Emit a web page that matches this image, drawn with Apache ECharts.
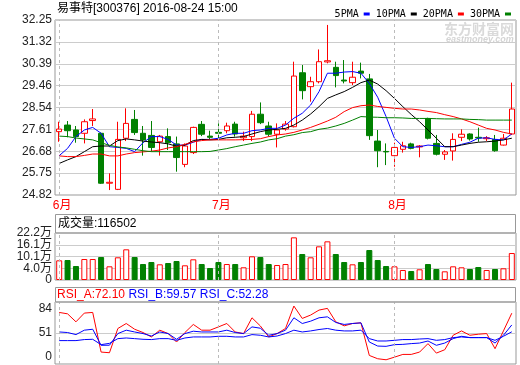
<!DOCTYPE html>
<html><head><meta charset="utf-8">
<script src="https://cdn.jsdelivr.net/npm/echarts@6/dist/echarts.min.js"></script>
<style>html,body{margin:0;padding:0;background:#fff}#c{width:520px;height:365px}</style>
</head><body><div id="c"></div>
<script>
const dates = ['2016-06-02','2016-06-03','2016-06-06','2016-06-07','2016-06-08','2016-06-13','2016-06-14','2016-06-15','2016-06-16','2016-06-17',
 '2016-06-20','2016-06-21','2016-06-22','2016-06-23','2016-06-24','2016-06-27','2016-06-28','2016-06-29','2016-06-30',
 '2016-07-01','2016-07-04','2016-07-05','2016-07-06','2016-07-07','2016-07-08','2016-07-11','2016-07-12','2016-07-13','2016-07-14','2016-07-15',
 '2016-07-18','2016-07-19','2016-07-20','2016-07-21','2016-07-22','2016-07-25','2016-07-26','2016-07-27','2016-07-28','2016-07-29',
 '2016-08-01','2016-08-02','2016-08-03','2016-08-04','2016-08-05','2016-08-08','2016-08-09','2016-08-10','2016-08-11','2016-08-12',
 '2016-08-18','2016-08-19','2016-08-22','2016-08-23','2016-08-24'];
const opens = [27.51,27.79,27.58,27.44,27.98,27.44,25.32,25.06,27.23,28.03, 27.44,27.35,27.08,27.30,26.99,26.12,26.62,27.82,27.32,27.48,
 27.55,27.83,27.25,27.30,28.25,27.75,27.40,27.62,27.72,30.01, 29.42,29.63,30.47,30.24,29.70,29.59,30.08,29.75,27.11,26.67,
 26.49,26.76,26.99,26.86,28.07,27.01,26.55,26.69,27.27,27.41, 27.27,27.21,27.18,26.94,27.41];
const closes = [27.62,27.55,27.30,27.93,28.05,25.32,25.36,27.18,27.86,27.47, 27.16,26.84,27.32,27.04,26.41,26.90,27.69,27.40,27.27,27.44,
 27.75,27.41,27.32,28.25,27.89,27.40,27.58,27.83,29.87,29.25, 29.63,30.48,30.52,29.89,29.66,29.82,29.99,27.34,26.70,26.65,
 26.84,26.91,26.80,26.90,27.23,26.55,26.65,27.18,27.40,27.20, 27.24,27.25,26.70,27.23,28.47];
const highs = [27.93,27.96,27.75,28.03,28.47,27.47,25.74,27.93,28.50,28.43, 27.75,27.96,27.37,27.65,27.30,27.01,27.72,27.96,27.55,27.86,
 27.89,27.93,27.51,28.39,28.75,27.93,27.86,27.96,30.48,30.34, 29.84,31.00,32.04,30.48,30.55,30.48,30.44,29.96,27.58,27.01,
 27.04,27.08,27.04,26.94,28.10,27.37,26.73,27.44,27.61,27.44, 27.68,27.32,27.37,27.41,29.59];
const lows = [27.08,27.27,27.04,27.01,27.75,25.29,25.03,25.03,27.11,27.37, 26.49,26.66,26.49,26.73,25.81,26.00,26.56,27.32,27.16,27.16,
 27.44,27.30,27.11,27.11,27.83,27.30,26.84,27.55,27.69,28.88, 28.78,29.56,30.41,29.39,29.56,29.49,29.77,27.16,26.00,26.09,
 26.02,26.62,26.76,26.42,27.18,26.50,26.31,26.28,27.11,27.13, 27.08,27.11,26.66,26.92,27.37];
const ma5 = [26.49,26.80,27.30,27.58,27.69,27.44,26.87,26.84,26.80,26.66, 27.04,27.30,27.30,27.18,26.94,26.94,27.06,27.18,27.18,27.23,
 27.37,27.44,27.44,27.55,27.58,27.65,27.65,27.79,28.08,28.29, 28.64,29.21,29.99,29.99,30.04,30.06,29.99,29.56,28.97,28.15,
 27.23,26.87,26.84,26.87,26.94,26.91,26.87,26.87,26.97,27.06, 27.23,27.25,27.18,27.16,27.41];
const ma10 = [26.16,26.31,26.45,26.66,26.87,26.90,26.90,27.13,27.20,27.16, 27.11,27.07,27.04,26.99,26.89,26.94,27.13,27.18,27.16,27.18,
 27.25,27.27,27.30,27.41,27.51,27.58,27.61,27.65,27.79,28.00, 28.26,28.57,28.92,29.07,29.21,29.39,29.59,29.70,29.53,29.25,
 28.92,28.57,28.24,27.93,27.58,27.23,26.87,26.87,26.94,27.01, 27.06,27.08,27.11,27.16,27.23];
const ma20 = [26.48,26.45,26.45,26.50,26.56,26.56,26.48,26.48,26.56,26.62, 26.65,26.68,26.73,26.82,26.87,26.97,27.08,27.13,27.16,27.16,
 27.16,27.16,27.17,27.18,27.21,27.30,27.37,27.41,27.48,27.58, 27.69,27.82,27.96,28.12,28.36,28.53,28.61,28.64,28.58,28.54,
 28.50,28.47,28.47,28.43,28.37,28.32,28.23,28.15,28.05,27.93, 27.79,27.65,27.58,27.48,27.41];
const ma30 = [27.32,27.30,27.24,27.20,27.16,27.04,26.93,26.86,26.82,26.76, 26.70,26.66,26.66,26.66,26.66,26.66,26.66,26.66,26.67,26.73,
 26.79,26.87,26.94,27.01,27.07,27.16,27.21,27.32,27.38,27.47, 27.51,27.61,27.66,27.75,27.86,28.00,28.15,28.13,28.12,28.10,
 28.10,28.09,28.07,28.07,28.07,28.06,28.05,28.05,28.05,28.03, 28.02,28.00,28.00,28.00,28.00];
const volumes = [85000,86300,60400,90600,90600,99200,59100,98000,132500,99200, 69000,77700,67700,73400,82000,63400,89300,69000,51800,77700,
 69000,69000,54800,102300,99200,69000,64700,69000,184200,112200, 98000,145400,167000,112200,77700,67700,77700,129500,86300,60400,
 59100,43200,38800,46200,69000,47500,37500,59100,54800,47500, 56100,43200,47500,50500,116502];
const rsiA = [72.9,71.4,62.9,72.2,72.9,30.7,30.0,55.8,61.1,55.0, 51.5,46.8,54.0,50.4,41.4,51.5,60.1,54.0,54.0,57.5,
 61.1,52.1,50.4,67.2,58.5,46.8,50.4,55.8,79.7,66.5, 70.1,75.4,77.2,62.9,58.6,61.1,61.8,27.1,23.6,22.5,
 25.3,28.2,28.2,30.7,39.7,29.6,33.2,48.6,53.2,48.6, 49.7,50.4,34.3,53.2,72.10];
const rsiB = [52.1,51.5,49.3,54.0,55.0,37.9,38.0,50.4,54.0,52.1, 50.4,47.8,52.1,50.4,44.3,50.4,52.9,52.1,52.1,52.1,
 54.0,51.5,50.4,57.5,56.1,48.6,50.4,54.0,67.2,61.1, 63.6,67.2,68.2,62.2,60.1,61.1,61.8,41.4,37.1,36.8,
 38.6,38.9,39.7,40.3,42.5,37.9,40.3,45.0,47.5,46.1, 46.1,46.1,40.3,48.6,59.57];
const rsiC = [42.9,42.9,42.9,44.0,44.3,38.6,40.0,45.0,45.7,45.0, 44.3,44.0,45.0,45.0,43.2,45.7,46.8,46.8,46.8,47.5,
 47.5,46.8,46.8,49.3,48.6,46.8,47.8,50.4,54.0,52.1, 53.2,54.7,55.8,54.0,53.2,53.2,54.0,45.0,42.5,42.5,
 43.2,44.0,44.0,44.6,45.0,43.2,44.0,46.1,46.8,46.1, 46.1,46.1,43.2,47.5,52.28];
const priceTicks = [24.82,25.75,26.68,27.61,28.54,29.46,30.39,31.32,32.25];
const volTicks = [0,50750,101500,152250,203000];
const volTickLabels = ['0','4.0万','10.1万','16.1万','22.2万'];
const rsiTicks = [18,51,84];
const rsiTickLabels = ['0','51','84'];
const stockName = '易事特[300376] 2016-08-24 15:00';

const RED = '#ff0000', GREEN = '#008000', BLUE = '#0000ff', BLACK = '#000000';
const FONT = "'Liberation Sans','Noto Sans CJK SC',sans-serif";
const MONO = "'DejaVu Sans Mono','Liberation Mono',monospace";
const FRAME = '#999999', GRIDC = '#cccccc';

const monthStarts = dates.map((d, i) => (i === 0 || d.slice(5, 7) !== dates[i - 1].slice(5, 7)) ? i : -1).filter(i => i >= 0);
const up = closes.map((c, i) => c > opens[i]);
const kData = opens.map((o, i) => [o, closes[i], lows[i], highs[i]]);
const volData = volumes.map((v, i) => ({
  value: v,
  itemStyle: up[i] ? {color: '#ffffff', borderColor: RED, borderWidth: 1} : {color: GREEN, borderColor: GREEN, borderWidth: 1}
}));
const monthLines = {
  symbol: 'none', silent: true, label: {show: false},
  lineStyle: {color: '#bbbbbb', type: [3, 3], width: 1},
  emphasis: {disabled: true},
  data: monthStarts.map(i => ({xAxis: i}))
};
// volume labels split over two overlaid axes so close labels are not auto-hidden
const volTicksA = volTicks.filter((v, i) => i % 2 === 0);
const volTicksB = volTicks.filter((v, i) => i % 2 === 1);

const chart = echarts.init(document.getElementById('c'), null, {renderer: 'canvas', width: 520, height: 365});
const gridBase = {left: 55, right: 4, show: true, borderColor: FRAME, borderWidth: 1, backgroundColor: 'transparent'};
const labelBase = {color: '#222', fontSize: 12, fontFamily: FONT, margin: 3, showMinLabel: true, showMaxLabel: true, hideOverlap: false};

chart.setOption({
  animation: false,
  grid: [
    Object.assign({top: 20, height: 175}, gridBase),
    Object.assign({top: 233, height: 47}, gridBase),
    Object.assign({top: 302, height: 62}, gridBase)
  ],
  legend: {
    right: 4, top: 4, align: 'right', icon: 'rect', itemWidth: 6, itemHeight: 3, itemGap: 6,
    selectedMode: false,
    textStyle: {fontFamily: MONO, fontSize: 10, color: '#000'},
    data: ['5PMA', '10PMA', '20PMA', '30PMA']
  },
  xAxis: [0, 1, 2].map(g => ({
    type: 'category', gridIndex: g, data: dates, boundaryGap: true,
    axisLine: {show: false}, axisTick: {show: false}, splitLine: {show: false},
    axisLabel: g === 0 ? {
      show: true, interval: (idx) => monthStarts.indexOf(idx) >= 0,
      formatter: (v) => parseInt(v.slice(5, 7), 10) + '月',
      color: RED, fontSize: 12, fontFamily: FONT, margin: 5, padding: [0, 0, 0, 6]
    } : {show: false}
  })),
  yAxis: [
    {
      type: 'value', gridIndex: 0, min: 24.82, max: 32.25,
      axisLine: {show: false}, axisTick: {show: false, customValues: priceTicks},
      axisLabel: Object.assign({customValues: priceTicks, formatter: v => v.toFixed(2)}, labelBase),
      splitLine: {show: true, lineStyle: {color: GRIDC, width: 1}}
    },
    {
      type: 'value', gridIndex: 1, position: 'left', offset: 0, min: volTicks[0], max: volTicks[volTicks.length - 1],
      axisLine: {show: false}, axisTick: {show: false, customValues: volTicks},
      axisLabel: Object.assign({}, labelBase, {customValues: volTicksA, formatter: v => volTickLabels[volTicks.indexOf(v)]}),
      splitLine: {show: true, lineStyle: {color: GRIDC, width: 1}}
    },
    {
      type: 'value', gridIndex: 2, min: 18, max: 84,
      axisLine: {show: false}, axisTick: {show: false, customValues: rsiTicks},
      axisLabel: Object.assign({
        customValues: rsiTicks,
        formatter: v => {
          const t = rsiTickLabels[rsiTicks.indexOf(v)];
          if (v === rsiTicks[2]) return '{t|' + t + '}';
          if (v === rsiTicks[0]) return '{b|' + t + '}';
          return t;
        },
        rich: {
          t: {padding: [14, 0, 0, 0], fontSize: 12, fontFamily: FONT, color: '#222'},
          b: {padding: [0, 0, 14, 0], fontSize: 12, fontFamily: FONT, color: '#222'}
        }
      }, labelBase),
      splitLine: {show: true, lineStyle: {color: GRIDC, width: 1}}
    },
    {
      type: 'value', gridIndex: 1, position: 'left', offset: 0, min: volTicks[0], max: volTicks[volTicks.length - 1],
      axisLine: {show: false}, axisTick: {show: false, customValues: volTicksB},
      axisLabel: Object.assign({}, labelBase, {customValues: volTicksB, formatter: v => volTickLabels[volTicks.indexOf(v)]}),
      splitLine: {show: false}
    }
  ],
  series: [
    {
      type: 'candlestick', name: 'K', xAxisIndex: 0, yAxisIndex: 0, data: kData, barWidth: 6, z: 2,
      itemStyle: {color: '#ffffff', color0: GREEN, borderColor: RED, borderColor0: GREEN, borderWidth: 1},
      markLine: monthLines
    },
    {type: 'line', name: '5PMA', xAxisIndex: 0, yAxisIndex: 0, data: ma5, color: BLUE, symbol: 'none', z: 3, lineStyle: {width: 1, color: BLUE}},
    {type: 'line', name: '10PMA', xAxisIndex: 0, yAxisIndex: 0, data: ma10, color: BLACK, symbol: 'none', z: 3, lineStyle: {width: 1, color: BLACK}},
    {type: 'line', name: '20PMA', xAxisIndex: 0, yAxisIndex: 0, data: ma20, color: RED, symbol: 'none', z: 3, lineStyle: {width: 1, color: RED}},
    {type: 'line', name: '30PMA', xAxisIndex: 0, yAxisIndex: 0, data: ma30, color: GREEN, symbol: 'none', z: 3, lineStyle: {width: 1, color: GREEN}},
    {type: 'bar', name: 'VOL', xAxisIndex: 1, yAxisIndex: 1, data: volData, barWidth: 6, markLine: monthLines},
    {type: 'line', name: 'RSI_A', xAxisIndex: 2, yAxisIndex: 2, data: rsiA, symbol: 'none', lineStyle: {width: 1, color: RED}, color: RED, markLine: monthLines},
    {type: 'line', name: 'RSI_B', xAxisIndex: 2, yAxisIndex: 2, data: rsiB, symbol: 'none', lineStyle: {width: 1, color: BLUE}, color: BLUE},
    {type: 'line', name: 'RSI_C', xAxisIndex: 2, yAxisIndex: 2, data: rsiC, symbol: 'none', lineStyle: {width: 1, color: BLUE}, color: BLUE}
  ],
  graphic: [
    {type: 'text', x: 57, y: 9, z: 10, style: {text: stockName, font: '12px ' + FONT, fill: '#000', verticalAlign: 'middle'}},
    {type: 'text', x: 444, y: 29, z: 0, silent: true, style: {text: '东方财富网', font: 'bold 14px "Noto Sans CJK SC"', fill: '#dadada', verticalAlign: 'middle'}},
    {type: 'text', x: 446, y: 40, z: 0, silent: true, style: {text: 'eastmoney.com', font: 'italic bold 9px "Liberation Sans"', fill: '#d4d4d4', verticalAlign: 'middle'}},
    {type: 'rect', z: 10, silent: true, shape: {x: 55.5, y: 214.5, width: 460, height: 18.5}, style: {fill: 'none', stroke: FRAME, lineWidth: 1}},
    {type: 'text', x: 58, y: 224, z: 10, style: {text: '成交量:' + volumes[volumes.length - 1], font: '12px ' + FONT, fill: '#000', verticalAlign: 'middle'}},
    {type: 'rect', z: 10, silent: true, shape: {x: 55.5, y: 287.5, width: 460, height: 14.5}, style: {fill: 'none', stroke: FRAME, lineWidth: 1}},
    {type: 'text', x: 57, y: 295, z: 10, style: {
      text: '{a|RSI_A:' + rsiA[rsiA.length - 1].toFixed(2) + '} {b|RSI_B:' + rsiB[rsiB.length - 1].toFixed(2) + '} {b|RSI_C:' + rsiC[rsiC.length - 1].toFixed(2) + '}',
      font: '12px ' + FONT, verticalAlign: 'middle',
      rich: {a: {fill: RED, font: '12px ' + FONT}, b: {fill: BLUE, font: '12px ' + FONT}}
    }}
  ]
});
</script></body></html>
